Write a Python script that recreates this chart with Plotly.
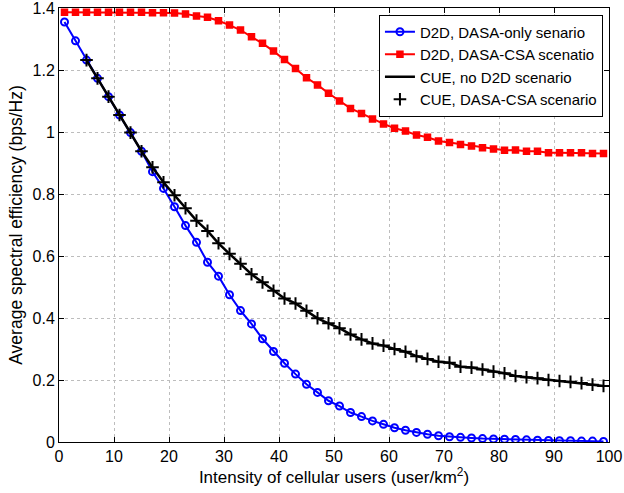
import plotly.graph_objects as go

x_all = list(range(1, 100, 2))
x_cue = list(range(5, 100, 2))

d2d_dasa_only = [1.355, 1.294, 1.232, 1.173, 1.114, 1.055, 0.998, 0.938, 0.872, 0.818,
                 0.759, 0.698, 0.644, 0.580, 0.535, 0.475, 0.424, 0.381, 0.333, 0.292,
                 0.254, 0.219, 0.186, 0.160, 0.133, 0.116, 0.095, 0.082, 0.068, 0.057,
                 0.046, 0.038, 0.031, 0.025, 0.020, 0.017, 0.015, 0.013, 0.011, 0.010,
                 0.009, 0.008, 0.007, 0.006, 0.005, 0.004, 0.004, 0.003, 0.003, 0.002]

d2d_dasa_csa = [1.386, 1.386, 1.386, 1.386, 1.386, 1.386, 1.386, 1.386, 1.385, 1.385,
                1.384, 1.381, 1.374, 1.370, 1.359, 1.345, 1.329, 1.307, 1.286, 1.261,
                1.234, 1.205, 1.175, 1.152, 1.125, 1.100, 1.076, 1.060, 1.042, 1.026,
                1.012, 1.003, 0.990, 0.983, 0.971, 0.966, 0.960, 0.955, 0.949, 0.945,
                0.941, 0.942, 0.938, 0.938, 0.933, 0.933, 0.933, 0.933, 0.931, 0.931]

cue_no_d2d = [1.232, 1.173, 1.114, 1.055, 0.998, 0.938, 0.886, 0.838, 0.796, 0.754,
              0.714, 0.681, 0.641, 0.607, 0.575, 0.541, 0.515, 0.488, 0.463, 0.447,
              0.423, 0.399, 0.383, 0.367, 0.347, 0.331, 0.318, 0.311, 0.300, 0.291,
              0.277, 0.268, 0.259, 0.256, 0.243, 0.240, 0.234, 0.227, 0.222, 0.213,
              0.209, 0.206, 0.200, 0.197, 0.194, 0.190, 0.185, 0.181]

cue_dasa_csa = list(cue_no_d2d)

y_ticks = [0, 0.2, 0.4, 0.6, 0.8, 1.0, 1.2, 1.4]
y_tick_labels = ["0", "0.2", "0.4", "0.6", "0.8", "1", "1.2", "1.4"]
x_ticks = [0, 10, 20, 30, 40, 50, 60, 70, 80, 90, 100]
x_tick_labels = ["0", "10", "20", "30", "40", "50", "60", "70", "80", "90", "100"]

FONT = "Liberation Sans, Arial, Helvetica, sans-serif"

fig = go.Figure()
fig.add_trace(go.Scatter(
    x=x_all, y=d2d_dasa_only, mode="lines+markers",
    name="D2D, DASA-only senario",
    line=dict(color="#0000ff", width=2),
    marker=dict(symbol="circle-open", size=7, color="#0000ff", line=dict(width=2, color="#0000ff"))))
fig.add_trace(go.Scatter(
    x=x_all, y=d2d_dasa_csa, mode="lines+markers",
    name="D2D, DASA-CSA scenatio",
    line=dict(color="#ff0000", width=2),
    marker=dict(symbol="square", size=6, color="#ff0000", line=dict(width=1.5, color="#ff0000"))))
fig.add_trace(go.Scatter(
    x=x_cue, y=cue_no_d2d, mode="lines",
    name="CUE, no D2D scenario",
    line=dict(color="#000000", width=2.5)))
fig.add_trace(go.Scatter(
    x=x_cue, y=cue_dasa_csa, mode="markers",
    name="CUE, DASA-CSA scenario",
    marker=dict(symbol="cross-thin-open", size=9, color="#000000", line=dict(width=2, color="#000000"))))

axis_common = dict(
    showline=True, linecolor="black", linewidth=1, mirror="ticks",
    ticks="inside", ticklen=5, tickcolor="black", tickwidth=1,
    showgrid=True, gridcolor="#bdbdbd", griddash="dot", gridwidth=1,
    zeroline=False, automargin=False, ticklabeloverflow="allow",
    tickfont=dict(family=FONT, size=16, color="black"),
)

fig.update_layout(
    width=624, height=493,
    margin=dict(l=59, r=15, t=8, b=51),
    paper_bgcolor="white", plot_bgcolor="white",
    font=dict(family=FONT, color="black"),
    showlegend=True,
    legend=dict(
        x=0.989, y=0.985, xanchor="right", yanchor="top",
        bgcolor="white", bordercolor="black", borderwidth=1,
        font=dict(family=FONT, size=15, color="black"),
        tracegroupgap=0, itemwidth=30,
    ),
    xaxis=dict(range=[0, 100], tickvals=x_ticks, ticktext=x_tick_labels,
               title=dict(text="Intensity of cellular users (user/km<sup>2</sup>)",
                          font=dict(family=FONT, size=17), standoff=3),
               **axis_common),
    yaxis=dict(range=[0, 1.4], tickvals=y_ticks, ticktext=y_tick_labels,
               title=dict(text="Average spectral efficiency (bps/Hz)",
                          font=dict(family=FONT, size=17.5), standoff=5),
               **axis_common),
)

fig.write_html("out.html", config={"displayModeBar": False},
               post_script="document.body.style.margin='0';document.body.style.padding='0';")
